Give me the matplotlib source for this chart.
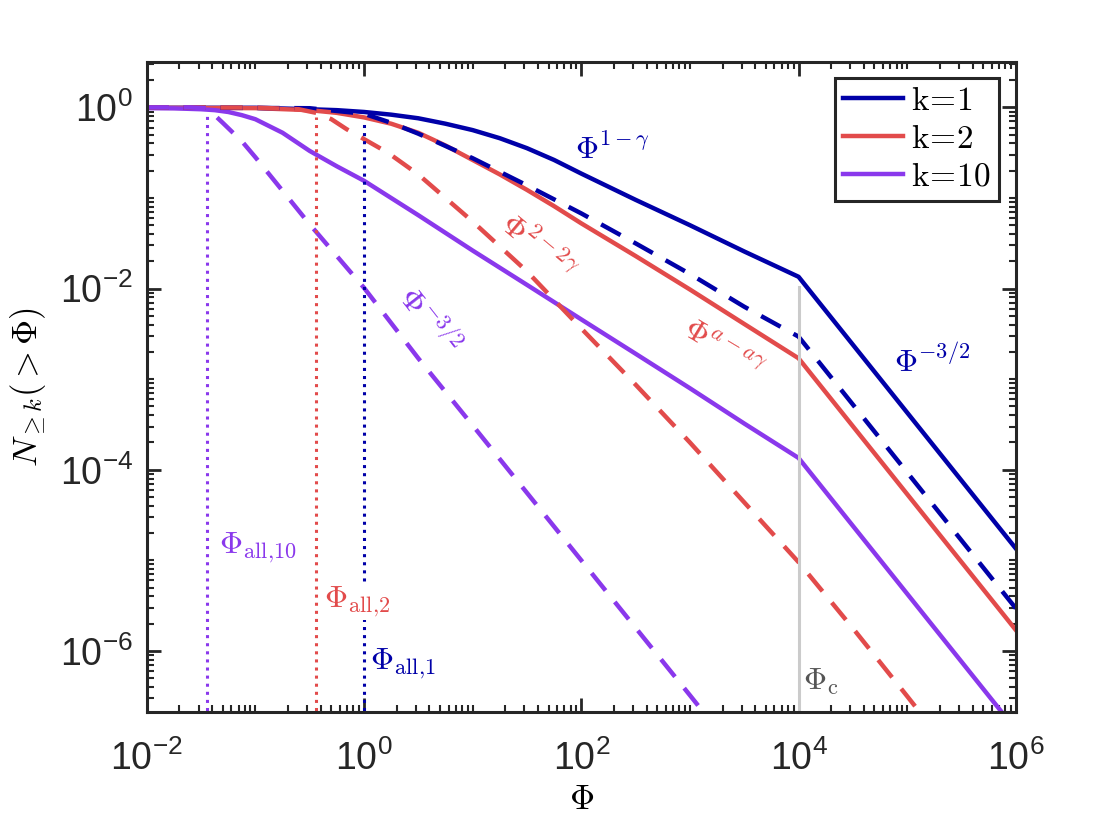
import matplotlib
matplotlib.use("Agg")
import matplotlib.pyplot as plt
import numpy as np

plt.rcParams['mathtext.fontset'] = 'cm'
plt.rcParams['mathtext.rm'] = 'Liberation Sans'
plt.rcParams['font.family'] = ['Liberation Sans', 'DejaVu Sans']

# values (x = Phi, y = N_{>=k}(>Phi))
phi_k1 = [1e-2, 1e-1, 3.16e-1, 5.62e-1, 1e0, 1.78e0, 3.16e0, 5.62e0, 1e1, 1.78e1, 3.16e1, 5.62e1,
          1e2, 3.16e2, 1e3, 3.16e3, 1e4, 1e5, 1e6]
n_k1 = [0.991, 0.991, 0.955, 0.933, 0.891, 0.832, 0.759, 0.661, 0.562, 0.457, 0.355, 0.263,
        0.186, 0.0955, 0.0501, 0.0257, 0.0135, 4.27e-4, 1.35e-5]

phi_k2 = [1e-2, 1e-1, 3.16e-1, 5.62e-1, 1e0, 1.78e0, 3.16e0, 5.62e0, 1e1, 1.78e1, 3.16e1, 5.62e1,
          1e2, 3.16e2, 1e3, 3.16e3, 1e4, 1e5, 1e6]
n_k2 = [0.991, 0.982, 0.933, 0.871, 0.776, 0.661, 0.525, 0.380, 0.263, 0.182, 0.123, 0.0813,
        0.0525, 0.0229, 9.77e-3, 4.07e-3, 1.70e-3, 5.37e-5, 1.70e-6]

phi_k10 = [1e-2, 1.78e-2, 3.16e-2, 4.22e-2, 5.62e-2, 7.5e-2, 1e-1, 1.78e-1, 3.16e-1, 5.62e-1, 1e0,
           3.16e0, 1e1, 3.16e1, 1e2, 3.16e2, 1e3, 3.16e3, 1e4, 1e5, 1e6]
n_k10 = [0.982, 0.977, 0.955, 0.933, 0.891, 0.822, 0.741, 0.525, 0.331, 0.224, 0.155,
         0.0646, 0.0263, 0.011, 4.57e-3, 1.91e-3, 7.94e-4, 3.24e-4, 1.35e-4, 4.27e-6, 1.35e-7]

# asymptotic (dashed) curves
phi_a1 = [1e-2, 3.16e-1, 1e0, 1.78e0, 3.16e0, 1e1, 3.16e1, 1e2, 3.16e2, 1e3, 3.16e3, 1e4, 1e5, 1e6]
n_a1 = [1.0, 0.98, 0.851, 0.676, 0.513, 0.275, 0.138, 0.0676, 0.0316, 0.0145, 6.31e-3, 2.95e-3,
        9.33e-5, 2.95e-6]

phi_a2 = [1e-2, 1e-1, 2.51e-1, 3.63e-1, 5.01e-1, 6.92e-1, 1e0, 1.66e0, 3.16e0, 1e1, 3.16e1, 1e2,
          3.16e2, 1e3, 3.16e3, 1e4, 3.16e4, 1e5, 1.58e5]
n_a2 = [1.0, 0.995, 0.955, 0.871, 0.741, 0.575, 0.447, 0.316, 0.182, 0.055, 0.0155, 3.63e-3,
        8.71e-4, 2.0e-4, 4.37e-5, 9.55e-6, 1.78e-6, 3.16e-7, 1.58e-7]

phi_a10 = [1e-2, 2.51e-2, 3.55e-2, 4.17e-2, 5.01e-2, 7.59e-2, 1e-1, 3.16e-1, 1e0, 3.16e0, 1e1,
           1e2, 1e3, 3.16e3]
n_a10 = [1.0, 1.0, 0.977, 0.832, 0.676, 0.417, 0.282, 0.0513, 0.0102, 1.70e-3, 3.09e-4,
         1.0e-5, 3.24e-7, 5.75e-8]

# characteristic fluxes
phi_all = [1.0, 0.363, 0.0357]
phi_all_top = [0.66, 0.78, 0.81]
phi_c = 1e4
phi_c_top = 0.0104

c_blue = '#0000A8'
c_red = '#E24B4B'
c_purple = '#8A38EC'
c_gray = '#CBCBCB'

fig = plt.figure(figsize=(11.2, 8.4), dpi=100)
ax = fig.add_axes([0.131, 0.152, 0.776, 0.774])

lw = 3.2
ax.plot(phi_k1, n_k1, color=c_blue, lw=lw, label=r'$\mathrm{k\!=\!1}$')
ax.plot(phi_k2, n_k2, color=c_red, lw=lw, label=r'$\mathrm{k\!=\!2}$')
ax.plot(phi_k10, n_k10, color=c_purple, lw=lw, label=r'$\mathrm{k\!=\!10}$')

dash = (5, 3.3)
ax.plot(phi_a1, n_a1, color=c_blue, lw=lw, dashes=dash)
ax.plot(phi_a2, n_a2, color=c_red, lw=lw, dashes=dash)
ax.plot(phi_a10, n_a10, color=c_purple, lw=lw, dashes=dash)

for x, top, c in zip(phi_all, phi_all_top, [c_blue, c_red, c_purple]):
    ax.plot([x, x], [1e-8, top], color=c, lw=2.2, ls=':')
ax.plot([phi_c, phi_c], [1e-8, phi_c_top], color=c_gray, lw=2.2)

ax.set_xscale('log')
ax.set_yscale('log')
ax.set_xlim(1e-2, 1e6)
ax.set_ylim(2.1e-7, 3.16)

# annotations
fs = 23
ax.text(88, 0.336, r'$\Phi^{1-\gamma}$', color=c_blue, fontsize=fs, ha='left', va='center')
ax.text(7.5e4, 1.55e-3, r'$\Phi^{-3/2}$', color=c_blue, fontsize=fs, ha='left', va='center')
ax.text(39, 0.0279, r'$\Phi^{2-2\gamma}$', color=c_red, fontsize=fs, ha='center', va='center',
        rotation=-40, rotation_mode='anchor')
ax.text(2000, 2.09e-3, r'$\Phi^{a-a\gamma}$', color=c_red, fontsize=fs, ha='center', va='center',
        rotation=-31, rotation_mode='anchor')
ax.text(3.9, 4.4e-3, r'$\Phi^{-3/2}$', color=c_purple, fontsize=fs, ha='center', va='center',
        rotation=-52, rotation_mode='anchor')
ax.text(0.0461, 1.37e-5, r'$\Phi_{\rm all{,}10}$', color=c_purple, fontsize=fs, ha='left', va='center')
ax.text(0.428, 3.47e-6, r'$\Phi_{\rm all{,}2}$', color=c_red, fontsize=fs, ha='left', va='center',
        bbox=dict(facecolor='white', edgecolor='none', pad=1))
ax.text(1.136, 7.2e-7, r'$\Phi_{\rm all{,}1}$', color=c_blue, fontsize=fs, ha='left', va='center')
ax.text(1.11e4, 4.6e-7, r'$\Phi_{\rm c}$', color='#555555', fontsize=fs, ha='left', va='center')

# ticks in the MATLAB style
ax.set_xticks([1e-2, 1e0, 1e2, 1e4, 1e6])
ax.set_yticks([1e-6, 1e-4, 1e-2, 1e0])
ax.set_xticklabels([r'$\mathdefault{10^{-2}}$', r'$\mathdefault{10^{0}}$', r'$\mathdefault{10^{2}}$',
                    r'$\mathdefault{10^{4}}$', r'$\mathdefault{10^{6}}$'])
ax.set_yticklabels([r'$\mathdefault{10^{-6}}$', r'$\mathdefault{10^{-4}}$', r'$\mathdefault{10^{-2}}$',
                    r'$\mathdefault{10^{0}}$'])
ax.xaxis.set_minor_locator(matplotlib.ticker.LogLocator(base=10, subs=np.arange(1, 10), numticks=100))
ax.yaxis.set_minor_locator(matplotlib.ticker.LogLocator(base=10, subs=np.arange(1, 10), numticks=100))
ax.xaxis.set_minor_formatter(matplotlib.ticker.NullFormatter())
ax.yaxis.set_minor_formatter(matplotlib.ticker.NullFormatter())
ax.tick_params(which='both', direction='in', top=True, right=True, colors='#262626', labelsize=27)
ax.tick_params(which='major', length=10, width=2)
ax.tick_params(which='minor', length=5, width=1.5)
ax.tick_params(axis='x', pad=20)
ax.tick_params(axis='y', pad=10)
for lab in ax.get_xticklabels() + ax.get_yticklabels():
    lab.set_math_fontfamily('custom')
    lab.set_color('#262626')
for s in ax.spines.values():
    s.set_linewidth(2.2)
    s.set_color('#262626')

ax.set_xlabel(r'$\Phi$', fontsize=25, labelpad=4)
ax.set_ylabel(r'$N_{\geq k}(>\Phi)$', fontsize=25, labelpad=8)

leg = ax.legend(loc='upper right', bbox_to_anchor=(0.9805, 0.976), fontsize=24, handlelength=1.8,
                handletextpad=0.25, labelspacing=0.2, borderpad=0.25, borderaxespad=0,
                fancybox=False, framealpha=1)
leg.get_frame().set_edgecolor('#262626')
leg.get_frame().set_linewidth(2.2)

fig.savefig('out.png', dpi=100)
